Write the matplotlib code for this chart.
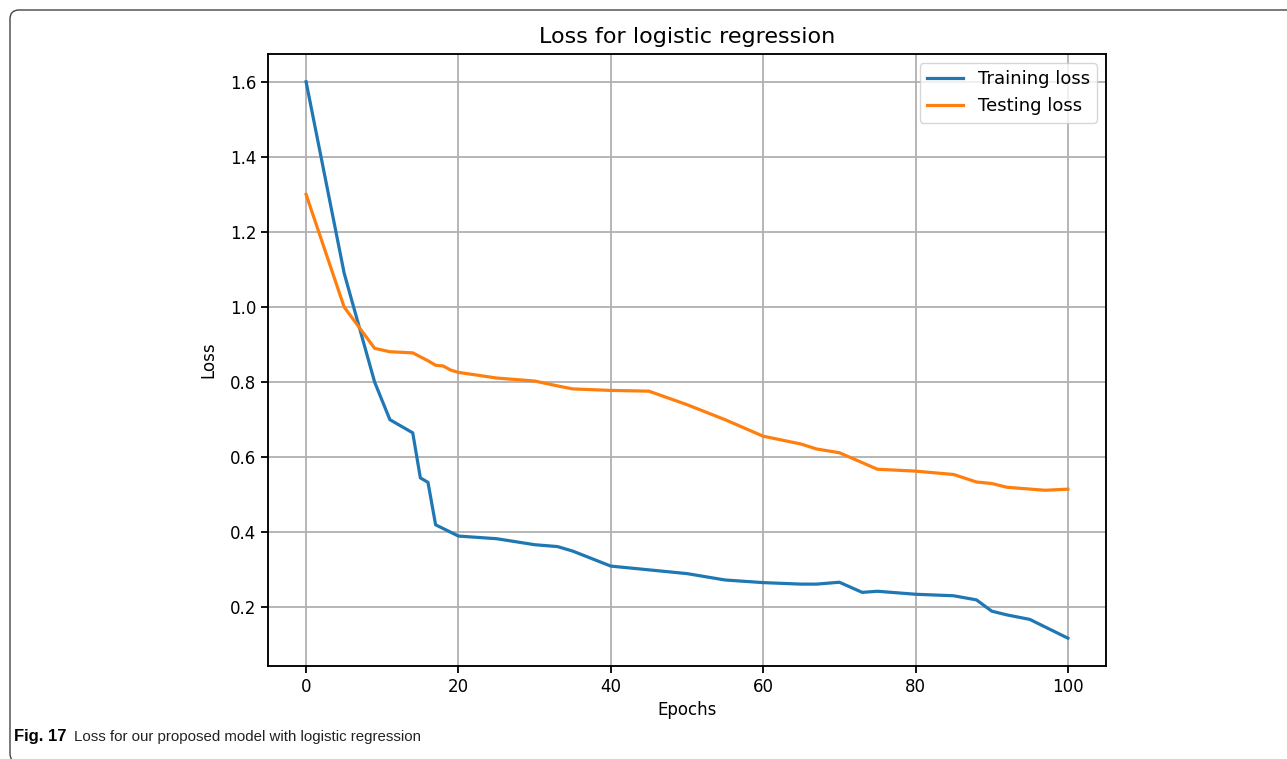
import matplotlib
matplotlib.use('Agg')
import matplotlib.pyplot as plt
from matplotlib.patches import FancyBboxPatch

# epochs / loss values
train_epochs = [0, 5, 9, 11, 14, 15, 16, 17, 20, 25, 30, 33, 35, 40, 45, 50, 55,
                60, 65, 67, 70, 73, 75, 80, 85, 88, 90, 92, 95, 100]
train_loss = [1.60, 1.09, 0.80, 0.70, 0.665, 0.545, 0.533, 0.42, 0.39, 0.383,
              0.367, 0.362, 0.35, 0.31, 0.30, 0.29, 0.273, 0.266, 0.262, 0.262,
              0.267, 0.24, 0.243, 0.235, 0.231, 0.22, 0.19, 0.18, 0.168, 0.118]

test_epochs = [0, 5, 9, 11, 14, 16, 17, 18, 19, 20, 25, 30, 33, 35, 40, 45, 50,
               55, 60, 65, 67, 70, 75, 80, 85, 88, 90, 92, 97, 100]
test_loss = [1.30, 1.00, 0.89, 0.881, 0.878, 0.857, 0.845, 0.843, 0.832, 0.826,
             0.811, 0.803, 0.79, 0.782, 0.778, 0.776, 0.74, 0.70, 0.656, 0.635,
             0.622, 0.612, 0.568, 0.563, 0.554, 0.534, 0.53, 0.52, 0.512, 0.515]

W, H = 1287, 759
fig = plt.figure(figsize=(W / 100, H / 100), dpi=100)

# outer frame of the journal figure (left/top edges + bottom-left corner)
frame = FancyBboxPatch((0.10, -0.035), 13.5, (H - 10) / 100 + 0.035,
                       boxstyle="round,pad=0,rounding_size=0.09",
                       transform=fig.dpi_scale_trans, facecolor='none',
                       edgecolor='#444444', linewidth=1.0, clip_on=False)
fig.patches.append(frame)

ax = fig.add_axes([268 / W, 1 - 666 / H, (1106 - 268) / W, (666 - 54) / H])
ax.plot(train_epochs, train_loss, color='#1f77b4', lw=2.3, label='Training loss')
ax.plot(test_epochs, test_loss, color='#ff7f0e', lw=2.3, label='Testing loss')
ax.grid(True, color='#b0b0b0', lw=1.3)
ax.set_axisbelow(True)
ax.set_xticks([0, 20, 40, 60, 80, 100])
ax.set_yticks([0.2, 0.4, 0.6, 0.8, 1.0, 1.2, 1.4, 1.6])
ax.tick_params(labelsize=12, length=5, width=1.3)
for s in ax.spines.values():
    s.set_linewidth(1.35)
ax.set_title('Loss for logistic regression', fontsize=16, pad=8)
ax.set_xlabel('Epochs', fontsize=12)
ax.set_ylabel('Loss', fontsize=12, labelpad=9)
ax.legend(loc='upper right', fontsize=13, handlelength=2.0)

# caption
cap_font = ['Liberation Sans', 'DejaVu Sans']
t1 = fig.text(14 / W, 1 - 741 / H, 'Fig. 17', fontsize=12, fontweight='bold',
              family=cap_font, va='baseline', ha='left')
fig.canvas.draw()
bb = t1.get_window_extent()
fig.text((bb.x1 + 8) / W, 1 - 741 / H,
         'Loss for our proposed model with logistic regression', fontsize=10.8,
         family=cap_font, va='baseline', ha='left', color='#222222')

fig.savefig('out.png', dpi=100)
